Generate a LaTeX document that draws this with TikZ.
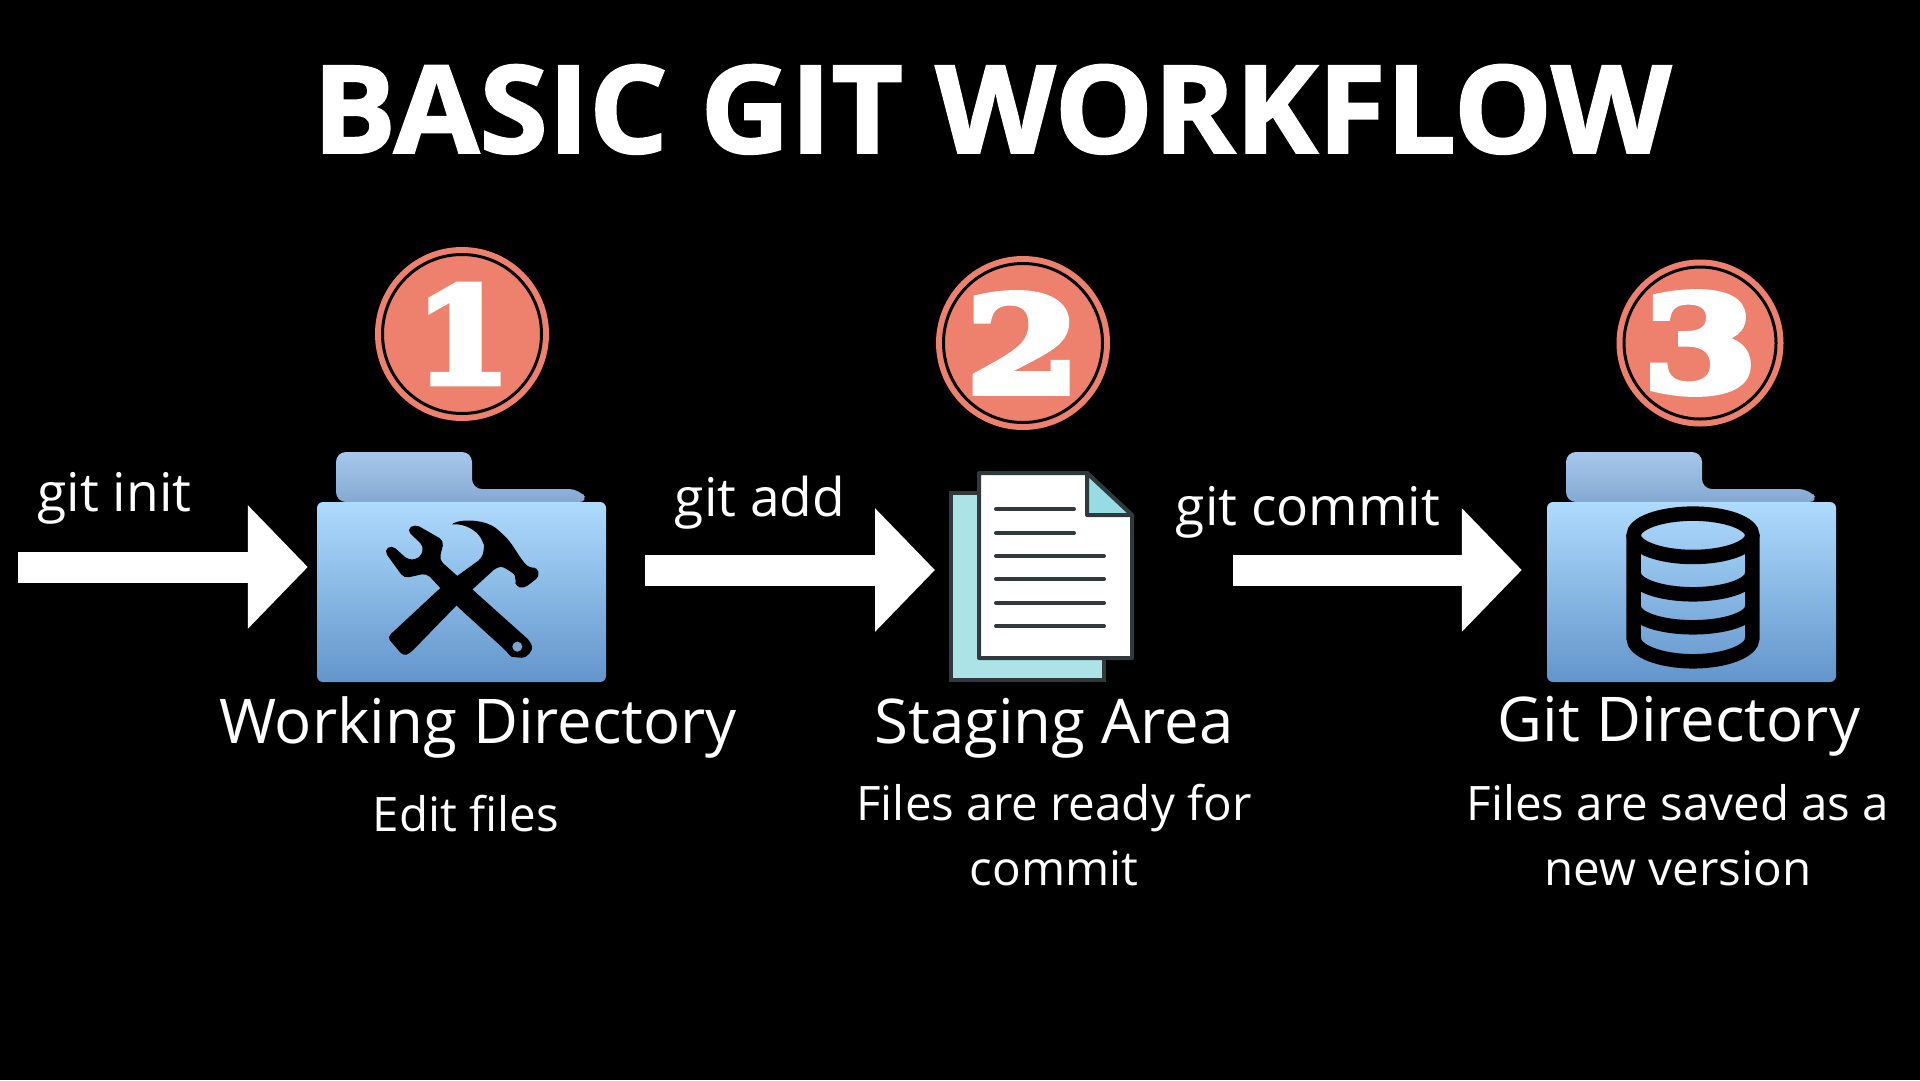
\documentclass[tikz,border=0pt]{standalone}
\usepackage{fontspec}
\setmainfont{Open Sans}
\newfontfamily\titlefont[FakeBold=1.6,FakeStretch=1.018]{Open Sans Bold}
\newfontfamily\digitfontA[FakeBold=5,FakeStretch=1.05]{DejaVu Serif Bold}
\newfontfamily\digitfontB[FakeBold=6,FakeStretch=1.25]{DejaVu Serif Bold}
\usetikzlibrary{arrows.meta}
\definecolor{salmon}{HTML}{EE816D}
\definecolor{frontTop}{HTML}{AEDBFD}
\definecolor{frontBot}{HTML}{6395CB}
\definecolor{backTop}{HTML}{A7C8EC}
\definecolor{backBot}{HTML}{85A9D2}
\definecolor{ink}{HTML}{30393B}
\definecolor{paper}{HTML}{ACE3E6}
\definecolor{foldc}{HTML}{97DCE2}
\tikzset{
  lbl/.style={text=white,anchor=base,inner sep=0pt,align=center},
  heading/.style={lbl,font=\fontsize{61.7}{62}\selectfont},
  sub/.style={lbl,font=\fontsize{47.5}{65}\selectfont},
  cmd/.style={lbl,font=\fontsize{53.3}{55}\selectfont},
  blockarrow/.style={white,line width=31pt,-{Triangle[length=60pt,width=120pt]}},
  badge/.style={circle,fill=salmon,minimum size=#1,inner sep=0pt},
  ringc/.style={draw=black,line width=3pt},
  digitA/.style={text=white,inner sep=0pt,font=\digitfontA\fontsize{132}{132}\selectfont},
  digitB/.style={text=white,inner sep=0pt,font=\digitfontB\fontsize{132}{132}\selectfont},
  folderfront/.style={rounded corners=6pt,top color=frontTop,bottom color=frontBot,minimum width=289pt,minimum height=180pt,inner sep=0pt},
  folderback/.style={rounded corners=10pt,top color=backTop,bottom color=backBot},
  line/.style={ink,line width=4pt,line cap=round},
}
\newcommand{\folderback}[1]{% x of front left
  \path[folderback,shift={(#1,0)}] (19,502) -- (19,452) -- (155,452) -- (155,489) -- (262,489) -- (272,502) -- cycle;
}
\begin{document}
\begin{tikzpicture}[x=1pt,y=-1pt]
\useasboundingbox (0,0) rectangle (1920,1080);
\fill[black] (0,0) rectangle (1920,1080);

\node[lbl,font=\titlefont\fontsize{122}{122}\selectfont] (title) at (992,153) {BASIC GIT WORKFLOW};

% badges
\node[badge=174pt] (b1) at (462,334) {};
\node[badge=174pt] (b2) at (1023,343) {};
\node[badge=167pt] (b3) at (1700,343) {};
\draw[ringc] (b1.center) circle[radius=79.5];
\draw[ringc] (b2.center) circle[radius=79.5];
\draw[ringc] (b3.center) circle[radius=76];
\node[digitA] (n1) at (463,334) {1};
\node[digitB] (n2) at (1023,343) {2};
\node[digitB] (n3) at (1700,343) {3};

% folders
\folderback{317}
\folderback{1547}
\node[folderfront] (f1) at (461.5,592) {};
\node[folderfront] (f3) at (1691.5,592) {};

% tools icon
\begin{scope}[shift={(300,230)},x=0.3333pt,y=-0.3333pt]
  \fill[black,rounded corners=5pt]
    (320,900) -- (345,882) -- (432,932) -- (418,990) -- (480,1045) -- (692,1235)
    .. controls (700,1262) and (680,1285) .. (650,1282)
    .. controls (630,1280) and (625,1270) .. (610,1255)
    -- (478,1135) -- (380,1030) -- (312,1045) -- (252,962) -- (275,945)
    -- (325,990) -- (360,985) -- (372,950) -- cycle;
  \fill[black,rounded corners=4pt]
    (262,1222) -- (420,1075) -- (545,985)
    .. controls (552,960) and (552,945) .. (548,935)
    .. controls (530,900) and (490,880) .. (450,885)
    .. controls (490,865) and (560,870) .. (600,905)
    .. controls (640,940) and (660,990) .. (692,1015)
    -- (712,1012) -- (718,1040) -- (672,1075) -- (648,1070) -- (645,1050)
    -- (650,1038)
    .. controls (625,1020) and (610,1010) .. (590,1012)
    -- (510,1085) -- (330,1270) -- (310,1278) -- cycle;
  \fill[frontBot!85!white] (652,1250) circle[radius=15];
\end{scope}

% database icon
\begin{scope}[shift={(1530,240)},x=0.3333pt,y=-0.3333pt]
  \draw[black,line width=14.5pt] (489,886) ellipse[x radius=178,y radius=65];
  \draw[black,line width=14.5pt,line cap=butt]
    (311,886) -- (311,1195)
    .. controls (311,1233) and (391,1264) .. (489,1264)
    .. controls (587,1264) and (667,1233) .. (667,1195) -- (667,886);
  \draw[black,line width=14.5pt]
    (311,1000) .. controls (311,1035) and (391,1063) .. (489,1063)
    .. controls (587,1063) and (667,1035) .. (667,1000);
  \draw[black,line width=14.5pt]
    (311,1100) .. controls (311,1135) and (391,1162) .. (489,1162)
    .. controls (587,1162) and (667,1135) .. (667,1100);
\end{scope}

% documents
\node[draw=ink,line width=4pt,fill=paper,minimum width=153pt,minimum height=187pt,inner sep=0pt] (doc) at (1027.5,586.5) {};
\filldraw[draw=ink,line width=4pt,fill=white,line join=round]
  (979,473) -- (1087,473) -- (1132,515) -- (1132,658) -- (979,658) -- cycle;
\filldraw[draw=ink,line width=4pt,fill=foldc,line join=round]
  (1087,473) -- (1132,515) -- (1087,515) -- cycle;
\foreach \y/\e in {509/1074,533/1074,556/1104,579/1104,603/1104,626/1104}
  \draw[line] (996,\y) -- (\e,\y);

% arrows
\coordinate (a1) at (18,567);
\coordinate (a2) at (645,570);
\coordinate (a3) at (1233,570);
\draw[blockarrow,shorten >=9pt] (a1) -- (a1 -| f1.west);
\draw[blockarrow,shorten >=14pt] (a2) -- (a2 -| doc.west);
\draw[blockarrow,shorten >=25pt] (a3) -- (a3 -| f3.west);

% labels
\node[cmd] (c1) at (114.5,511) {git init};
\node[cmd] (c2) at (760,516) {git add};
\node[cmd] (c3) at (1308,525) {git commit};
\node[heading] (h1) at (478,743) {Working Directory};
\node[heading] (h2) at (1054,743) {Staging Area};
\node[heading] (h3) at (1679,741) {Git Directory};
\node[sub] (s1) at (466,831) {Edit files};
\node[sub] (s2) at (1054,885) {Files are ready for\\commit};
\node[sub] (s3) at (1678,885) {Files are saved as a\\new version};
\end{tikzpicture}
\end{document}
